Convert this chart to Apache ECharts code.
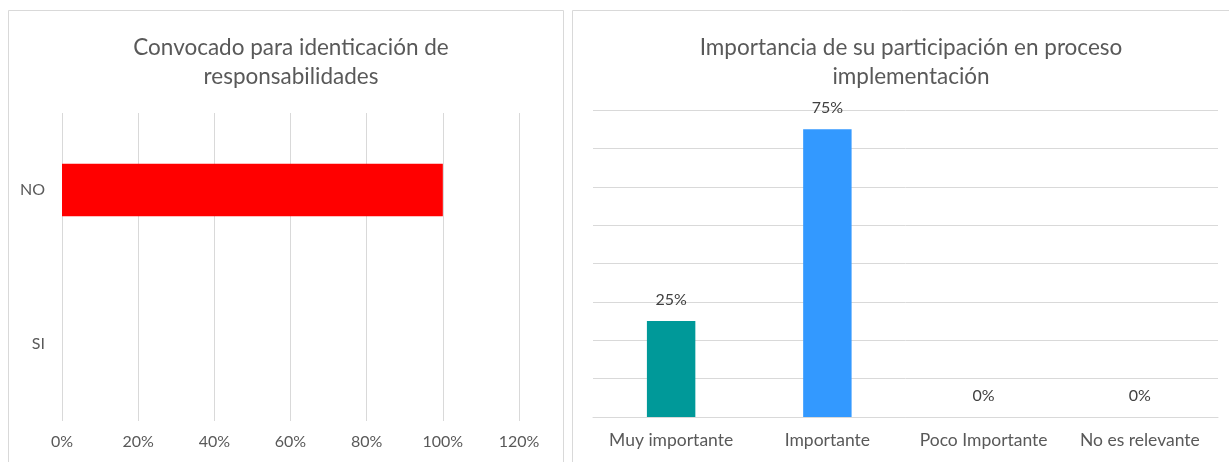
<!DOCTYPE html>
<html>
<head>
<meta charset="utf-8">
<script src="https://cdn.jsdelivr.net/npm/echarts@6/dist/echarts.min.js"></script>
<style>
html,body{margin:0;padding:0;background:#fff;}
#chart{width:1229px;height:462px;}
</style>
</head>
<body>
<div id="chart"></div>
<script>
// Left chart data
const leftTitle = 'Convocado para identicación de\nresponsabilidades';
const leftCategories = ['SI', 'NO'];
const leftValues = [0, 100];
const leftTicks = [0, 20, 40, 60, 80, 100, 120];

// Right chart data
const rightTitle = 'Importancia de su participación en proceso\nimplementación';
const rightCategories = ['Muy importante', 'Importante', 'Poco Importante', 'No es relevante'];
const rightValues = [25, 75, 0, 0];
const rightColors = ['#009999', '#3399FF', '#3399FF', '#3399FF'];

const FONT = 'Lato';
const TXT = '#595959';
const GRID = '#D9D9D9';

const chart = echarts.init(document.getElementById('chart'), null, {renderer: 'canvas'});
chart.setOption({
  animation: false,
  backgroundColor: '#fff',
  graphic: [
    {type: 'rect', shape: {x: 8.5, y: 10.5, width: 555, height: 470}, style: {fill: 'none', stroke: GRID, lineWidth: 1}},
    {type: 'rect', shape: {x: 572.5, y: 10.5, width: 700, height: 470}, style: {fill: 'none', stroke: GRID, lineWidth: 1}}
  ],
  title: [
    {text: leftTitle, left: 286, top: 28, textAlign: 'center',
     textStyle: {fontFamily: FONT, fontSize: 22.5, fontWeight: 'normal', color: TXT, lineHeight: 29}},
    {text: rightTitle, left: 906, top: 28, textAlign: 'center',
     textStyle: {fontFamily: FONT, fontSize: 22.5, fontWeight: 'normal', color: TXT, lineHeight: 29}}
  ],
  grid: [
    {left: 62, right: 1229 - 519, top: 113, bottom: 462 - 421, containLabel: false},
    {left: 593, right: 1229 - 1218, top: 110, bottom: 462 - 417, containLabel: false}
  ],
  xAxis: [
    {type: 'value', gridIndex: 0, min: leftTicks[0], max: leftTicks[leftTicks.length - 1], interval: 20,
     axisLine: {show: false}, axisTick: {show: false},
     splitLine: {show: true, lineStyle: {color: GRID, width: 1}},
     axisLabel: {formatter: '{value}%', fontFamily: FONT, fontSize: 16, color: TXT, margin: 13}},
    {type: 'category', gridIndex: 1, data: rightCategories,
     axisLine: {show: true, lineStyle: {color: GRID, width: 1}}, axisTick: {show: false},
     axisLabel: {interval: 0, fontFamily: FONT, fontSize: 17.5, color: TXT, margin: 14}}
  ],
  yAxis: [
    {type: 'category', gridIndex: 0, data: leftCategories,
     axisLine: {show: false}, axisTick: {show: false},
     axisLabel: {fontFamily: FONT, fontSize: 16, color: TXT, margin: 17}},
    {type: 'value', gridIndex: 1, min: 0, max: 80, interval: 10,
     axisLine: {show: false}, axisTick: {show: false}, axisLabel: {show: false},
     splitLine: {show: true, lineStyle: {color: GRID, width: 1}}}
  ],
  series: [
    {type: 'bar', xAxisIndex: 0, yAxisIndex: 0, data: leftValues, barWidth: '34%',
     itemStyle: {color: '#FF0000'}},
    {type: 'bar', xAxisIndex: 1, yAxisIndex: 1, barWidth: '31%',
     data: rightValues.map((v, i) => ({value: v, itemStyle: {color: rightColors[i]}})),
     label: {show: true, position: 'top', distance: 13, formatter: '{c}%',
             fontFamily: FONT, fontSize: 16, color: '#404040'}}
  ]
});
</script>
</body>
</html>
